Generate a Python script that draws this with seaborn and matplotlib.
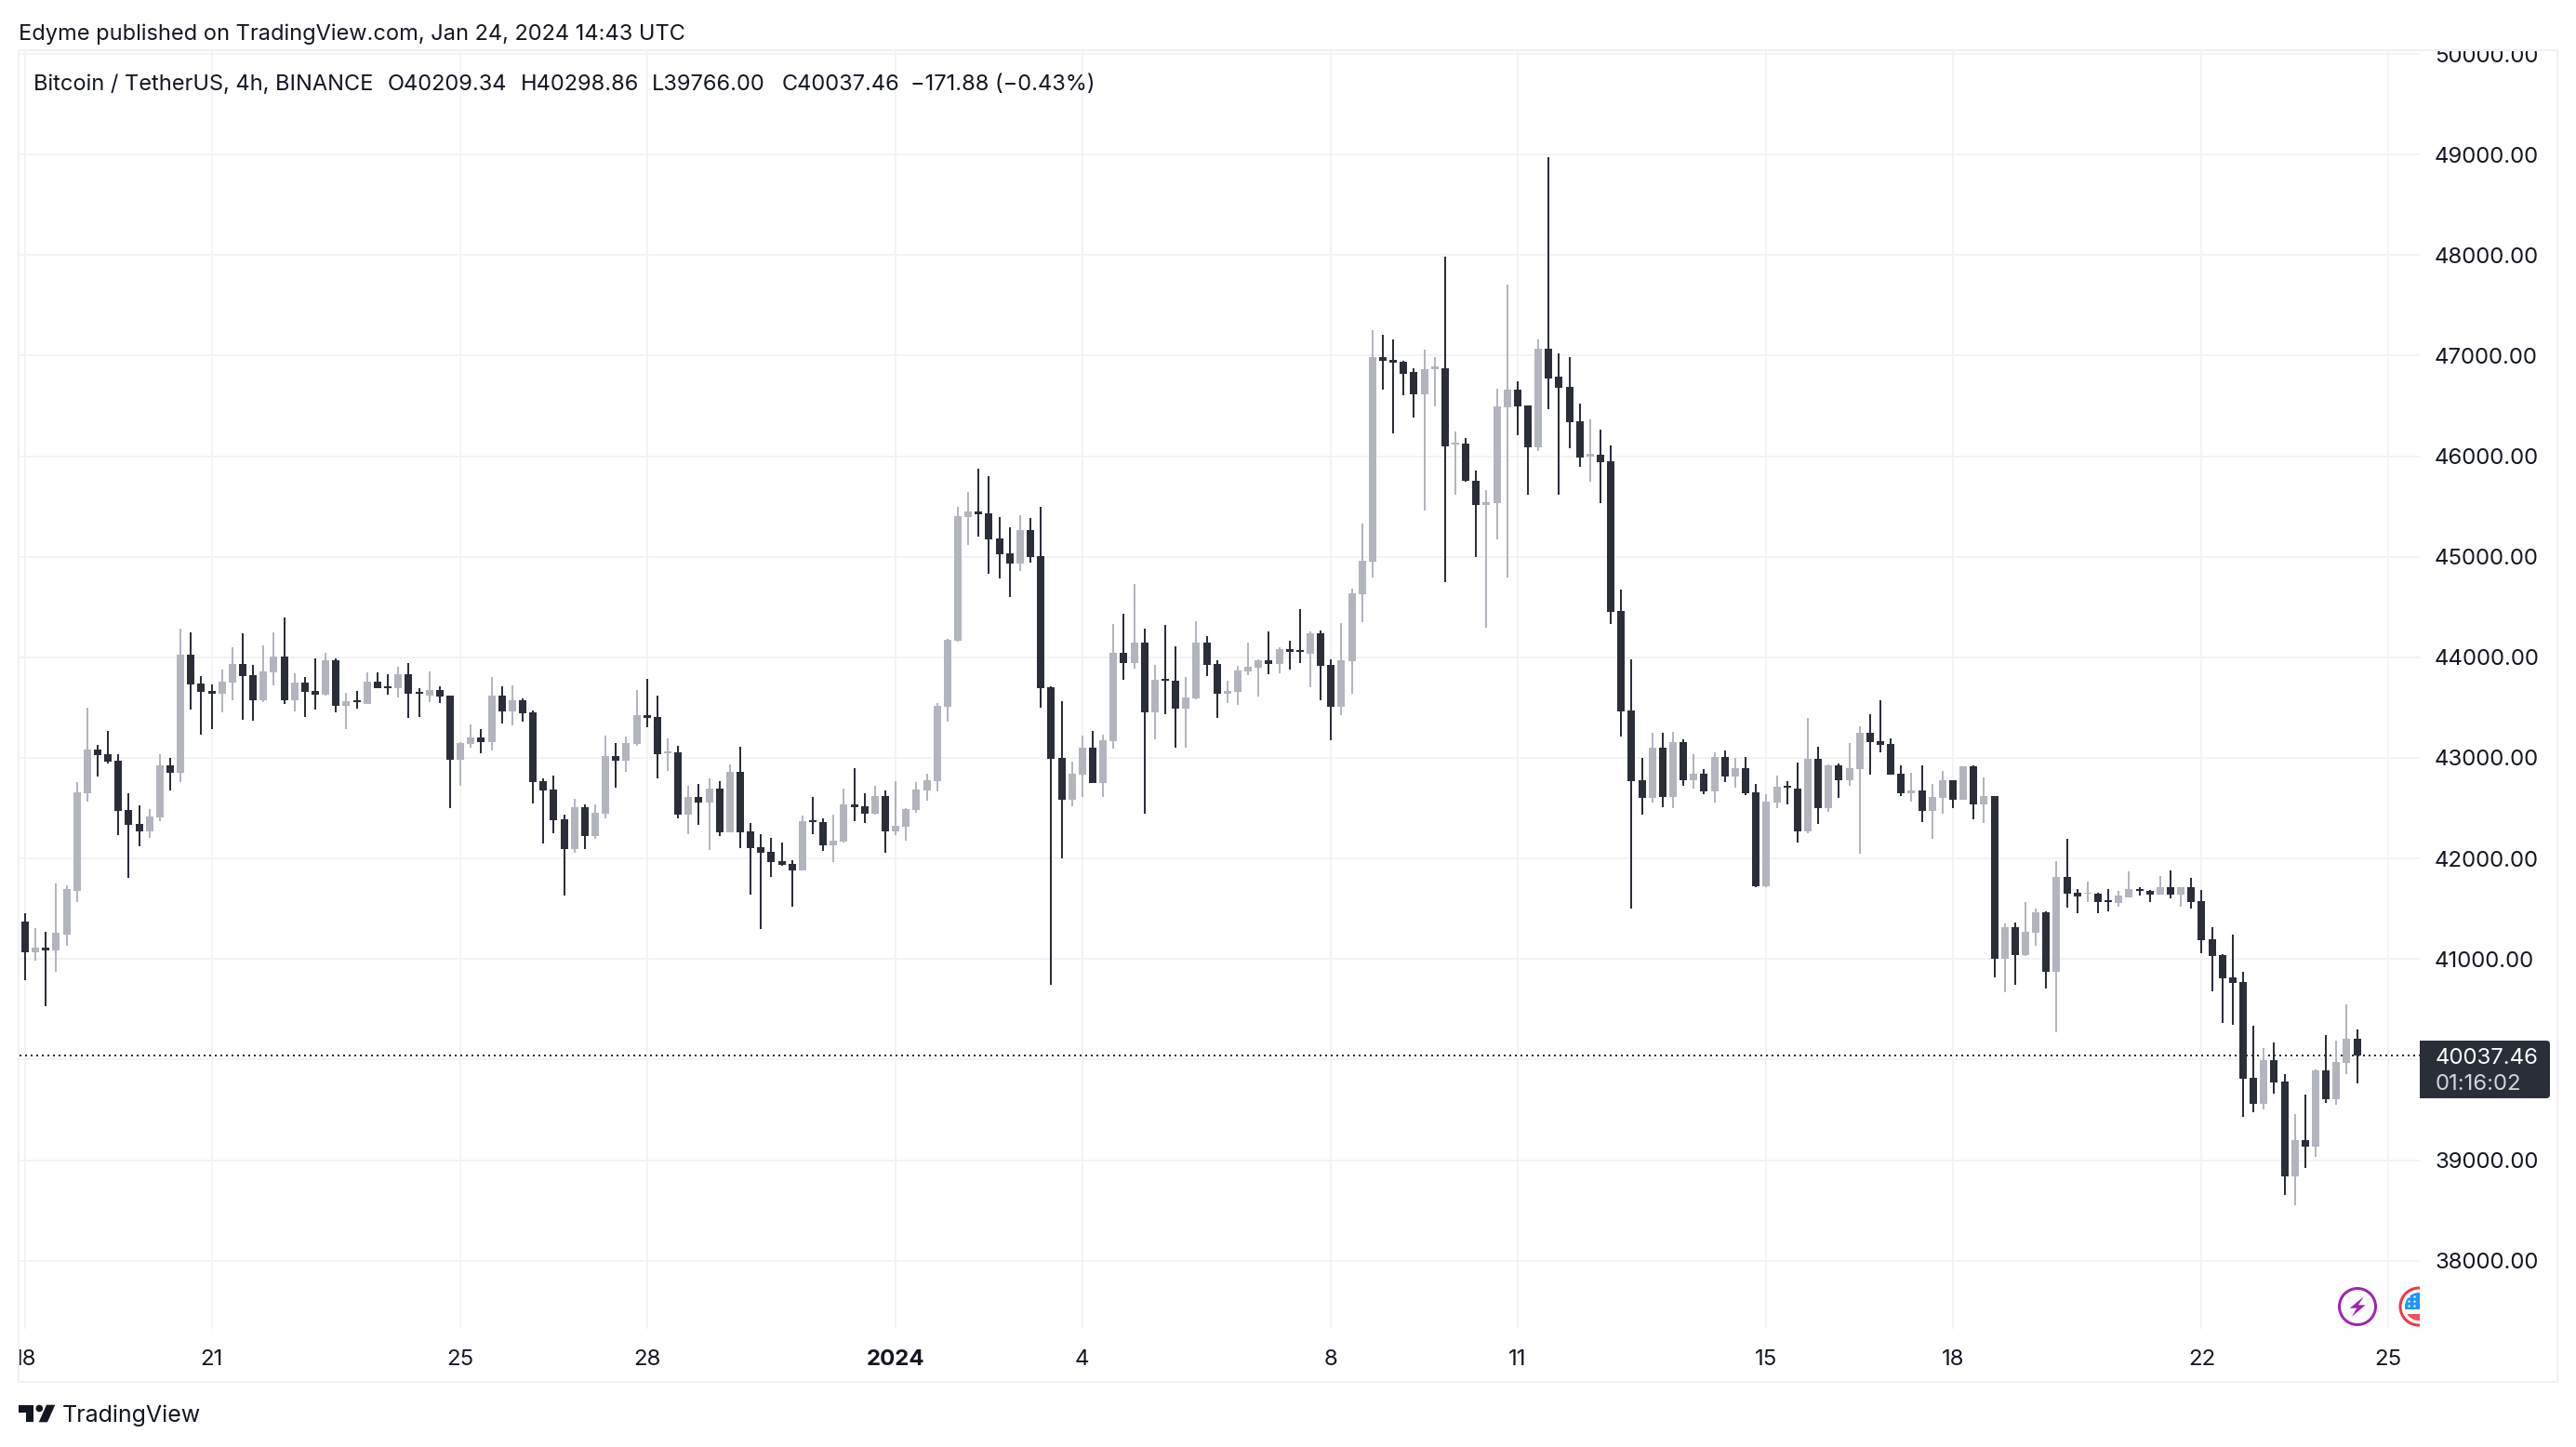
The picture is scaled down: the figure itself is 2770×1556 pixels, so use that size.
import matplotlib
matplotlib.use("Agg")
import matplotlib.pyplot as plt
from matplotlib.patches import Circle, FancyBboxPatch, Polygon, Rectangle
from matplotlib.transforms import Bbox
import numpy as np
import pandas as pd
import seaborn as sns

# 4h candles, first bar is Dec 18 00:00
opens = [41368, 41071, 41118, 41090, 41247, 41682, 42645, 43080, 43034, 42969,
         42479, 42340, 42266, 42405, 42923, 42849, 44025, 43738, 43664, 43636,
         43747, 43932, 43821, 43571, 43849, 44006, 43571, 43747, 43664, 43627,
         43969, 43515, 43571, 43534, 43756, 43710, 43691, 43830, 43654, 43617,
         43673, 43617, 42979, 43136, 43201, 43154, 43617, 43460, 43571, 43451,
         42766, 42682, 42386, 42090, 42506, 42219, 42442, 43016, 42969, 43136,
         43423, 43404, 43043, 43053, 42432, 42608, 42553, 42692, 42256, 42858,
         42266, 42108, 42062, 41969, 41942, 41877, 42377, 42358, 42127, 42164,
         42534, 42516, 42442, 42617, 42266, 42312, 42479, 42673, 42766, 43508,
         44166, 45396, 45452, 45435, 45183, 45034, 44935, 45268, 45009, 43702,
         43001, 42583, 42831, 43100, 42750, 43168, 44046, 43943, 44149, 43455,
         43787, 43766, 43490, 43593, 44149, 43933, 43639, 43656, 43862, 43897,
         43972, 43933, 44081, 44074, 44035, 44241, 43926, 43508, 43961, 44627,
         44955, 46982, 46955, 46936, 46833, 46612, 46869, 46879, 46112, 46122,
         45759, 45511, 45537, 46483, 46658, 46509, 46093, 47065, 46787, 46694,
         46344, 46000, 46010, 45954, 44461, 43473, 42779, 42603, 43102, 42613,
         43159, 42779, 42841, 42666, 43010, 42815, 42898, 42656, 41724, 42557,
         42722, 42696, 42269, 42990, 42501, 42927, 42779, 42888, 43251, 43165,
         43139, 42841, 42653, 42676, 42471, 42603, 42779, 42583, 42917, 42537,
         42620, 41006, 41321, 41043, 41265, 41469, 40877, 41816, 41658, 41646,
         41646, 41582, 41554, 41615, 41692, 41674, 41637, 41711, 41637, 41711,
         41572, 41193, 41036, 40814, 40768, 39816, 39558, 39992, 39779, 38837,
         39197, 39133, 39890, 39604, 39964, 40209.34]
highs = [41460, 41303, 41266, 41747, 41729, 42756, 43497, 43127, 43266, 43034,
         42645, 42525, 42488, 43034, 42997, 44284, 44247, 43812, 43728, 43877,
         44099, 44238, 43923, 44117, 44247, 44395, 43840, 43802, 43988, 44043,
         43988, 43645, 43664, 43849, 43849, 43830, 43904, 43941, 43691, 43858,
         43710, 43617, 43154, 43330, 43284, 43802, 43710, 43719, 43590, 43469,
         42793, 42821, 42432, 42590, 42534, 42534, 43219, 43145, 43210, 43673,
         43784, 43617, 43191, 43117, 42719, 42738, 42793, 42766, 42932, 43108,
         42349, 42238, 42201, 42155, 41979, 42423, 42608, 42395, 42432, 42692,
         42895, 42645, 42719, 42673, 42766, 42497, 42756, 42840, 43543, 44188,
         45498, 45647, 45877, 45803, 45396, 45296, 45417, 45388, 45498, 43713,
         43564, 42962, 43221, 43267, 43231, 44333, 44436, 44730, 44287, 43926,
         44322, 44110, 43805, 44361, 44213, 43972, 43766, 43911, 44149, 43982,
         44259, 44103, 44166, 44482, 44259, 44266, 43979, 44340, 44680, 45332,
         47250, 47210, 47157, 46946, 46879, 47055, 46982, 47980, 46248, 46182,
         45861, 45663, 46668, 47703, 46747, 46509, 47157, 48972, 47025, 46982,
         46519, 46370, 46268, 46109, 44673, 43982, 43000, 43251, 43251, 43258,
         43182, 43036, 42888, 43056, 43073, 43000, 43007, 42742, 42640, 42825,
         42769, 42954, 43397, 43112, 42934, 42944, 43149, 43314, 43436, 43575,
         43192, 42927, 42851, 42927, 42742, 42871, 42779, 42917, 42927, 42805,
         42620, 41358, 41367, 41570, 41506, 41478, 41972, 42193, 41694, 41766,
         41662, 41692, 41680, 41868, 41711, 41683, 41821, 41877, 41717, 41803,
         41683, 41313, 41045, 41239, 40870, 40334, 40112, 40167, 39853, 39456,
         39650, 39900, 40241, 40186, 40546, 40298.86]
lows = [40794, 40988, 40534, 40877, 41136, 41571, 42562, 42812, 42942, 42229,
        41803, 42118, 42201, 42368, 42673, 42756, 43478, 43228, 43284, 43451,
        43571, 43377, 43367, 43553, 43719, 43534, 43460, 43404, 43478, 43617,
        43451, 43284, 43488, 43534, 43691, 43627, 43599, 43395, 43404, 43553,
        43543, 42497, 42719, 43099, 43043, 43071, 43340, 43321, 43358, 42543,
        42145, 42247, 41627, 42053, 42090, 42192, 42395, 42701, 42858, 43117,
        43303, 42793, 42867, 42395, 42238, 42330, 42081, 42219, 42256, 42099,
        41645, 41294, 41812, 41923, 41516, 41877, 42238, 42071, 41960, 42155,
        42368, 42349, 42432, 42053, 42229, 42173, 42451, 42571, 42664, 43359,
        44152, 45119, 45204, 44832, 44786, 44602, 44861, 44942, 43501, 40745,
        42000, 42519, 42612, 42750, 42612, 43093, 43777, 43887, 42445, 43185,
        43433, 43100, 43100, 43586, 43816, 43398, 43547, 43525, 43823, 43610,
        43834, 43841, 43880, 43943, 43702, 43575, 43175, 43426, 43639, 44351,
        44797, 46658, 46231, 46602, 46380, 45455, 46499, 44750, 45620, 45742,
        45000, 44297, 45177, 44797, 46205, 45620, 46056, 46463, 45613, 46083,
        45898, 45742, 45537, 44334, 43212, 41502, 42435, 42557, 42511, 42501,
        42722, 42696, 42640, 42557, 42759, 42702, 42630, 41714, 41714, 42501,
        42537, 42157, 42250, 42342, 42464, 42603, 42722, 42048, 42835, 43056,
        42835, 42620, 42564, 42362, 42193, 42445, 42501, 42583, 42388, 42352,
        40821, 40673, 40747, 41034, 41136, 40710, 40275, 41509, 41453, 41563,
        41452, 41471, 41517, 41609, 41628, 41563, 41637, 41600, 41517, 41498,
        41054, 40676, 40361, 40343, 39428, 39474, 39502, 39659, 38652, 38550,
        38920, 39031, 39567, 39548, 39853, 39766.00]
closes = [41071, 41118, 41090, 41257, 41692, 42655, 43080, 43025, 42960, 42469,
          42330, 42266, 42414, 42923, 42849, 44025, 43728, 43654, 43636, 43756,
          43932, 43812, 43571, 43858, 44006, 43571, 43747, 43654, 43627, 43969,
          43515, 43562, 43553, 43756, 43691, 43691, 43830, 43636, 43636, 43673,
          43608, 42979, 43145, 43201, 43154, 43617, 43460, 43571, 43441, 42756,
          42673, 42377, 42090, 42506, 42219, 42451, 43016, 42969, 43145, 43423,
          43395, 43034, 43062, 42432, 42608, 42553, 42692, 42256, 42858, 42256,
          42099, 42053, 41960, 41932, 41877, 42368, 42358, 42127, 42173, 42534,
          42506, 42442, 42617, 42266, 42321, 42488, 42682, 42775, 43515, 44177,
          45406, 45452, 45427, 45176, 45027, 44935, 45268, 44999, 43695, 42991,
          42583, 42838, 43100, 42750, 43175, 44046, 43943, 44149, 43455, 43777,
          43766, 43490, 43600, 44149, 43926, 43639, 43667, 43869, 43908, 43972,
          43933, 44081, 44053, 44050, 44241, 43915, 43508, 43972, 44638, 44963,
          46982, 46946, 46926, 46823, 46612, 46869, 46889, 46102, 46132, 45752,
          45511, 45547, 46493, 46658, 46499, 46093, 47065, 46777, 46684, 46334,
          45990, 46020, 45944, 44456, 43466, 42769, 42603, 43102, 42613, 43159,
          42779, 42841, 42663, 43010, 42815, 42898, 42646, 41724, 42564, 42712,
          42702, 42269, 42990, 42501, 42927, 42779, 42898, 43251, 43159, 43129,
          42835, 42650, 42673, 42471, 42610, 42779, 42583, 42917, 42537, 42620,
          41006, 41321, 41043, 41274, 41469, 40877, 41816, 41648, 41625, 41655,
          41563, 41569, 41628, 41692, 41680, 41637, 41711, 41637, 41711, 41563,
          41184, 41027, 40805, 40759, 39807, 39558, 39992, 39770, 38837, 39197,
          39133, 39890, 39604, 39973, 40204, 40037.46]

price_ticks = list(range(38000, 51000, 1000))
date_ticks = [0, 18, 42, 60, 84, 102, 126, 144, 168, 186, 210, 228]
date_labels = ["18", "21", "25", "28", "2024", "4", "8", "11", "15", "18", "22", "25"]
last_price = 40037.46

DARK = "#2a2e39"
GREY = "#b2b5be"
GRID = "#f3f3f5"
FRAME = "#f0f0f6"
INK = "#131722"
PX = 0.72  # points per pixel at dpi 100

sns.set_theme(style="white")
plt.rcParams["font.family"] = ["Inter", "DejaVu Sans"]
plt.rcParams["lines.solid_capstyle"] = "butt"

bars = np.arange(len(opens))
side = np.where(np.array(closes) < np.array(opens), "down", "up")
wicks = pd.DataFrame({
    "bar": np.concatenate([bars, bars]),
    "price": highs + lows,
    "side": np.concatenate([side, side]),
})
bodies = pd.DataFrame({
    "bar": np.concatenate([bars, bars]),
    "price": opens + closes,
    "side": np.concatenate([side, side]),
})

fig = plt.figure(figsize=(27.7, 15.56), dpi=100, facecolor="white")
ax = fig.add_axes([21 / 2770, 1 - 1429 / 1556, (2602 - 21) / 2770, (1429 - 54) / 1556])
palette = {"up": GREY, "down": DARK}

ax.axhline(last_price, color=DARK, lw=2 * PX, ls=(0, (1, 2)), zorder=1.5)
sns.lineplot(data=wicks, x="bar", y="price", units="bar", hue="side", palette=palette,
             estimator=None, sort=False, linewidth=2 * PX, legend=False, ax=ax, zorder=3)
sns.lineplot(data=bodies, x="bar", y="price", units="bar", hue="side", palette=palette,
             estimator=None, sort=False, linewidth=8 * PX, legend=False, ax=ax, zorder=3)

ax.set_xlim((21 - 27) / 11.145, (2602 - 27) / 11.145)
ax.set_ylim(37322, 50037)
ax.set_xlabel("")
ax.set_ylabel("")
ax.set_xticks(date_ticks)
ax.set_xticklabels(date_labels, fontsize=24 * PX, color=INK)
ax.set_yticks(price_ticks)
# the last price tag sits where the 40000 label would be
ax.set_yticklabels(["" if p == 40000 else f"{p:.2f}" for p in price_ticks], fontsize=24 * PX, color=INK)
ax.yaxis.tick_right()
ax.tick_params(axis="both", length=0)
ax.tick_params(axis="y", pad=16 * PX)
ax.tick_params(axis="x", pad=22 * PX)
ax.grid(True, color=GRID, lw=2 * PX)
ax.set_axisbelow(True)
sns.despine(ax=ax, left=True, bottom=True, right=True, top=True)
ax.get_xticklabels()[4].set_fontweight("bold")

# labels cut by the frame, same as on the site
frame_box = Bbox.from_extents(20, 0, 2750, 1556 - 54)
for lab in [ax.get_yticklabels()[-1], ax.get_xticklabels()[0]]:
    lab.set_clip_on(True)
    lab.set_clip_box(frame_box)

# pixel overlay for the page furniture
over = fig.add_axes([0, 0, 1, 1])
over.set_xlim(0, 2770)
over.set_ylim(1556, 0)
over.axis("off")
over.patch.set_alpha(0)

over.add_patch(Rectangle((20, 54), 2730, 1432, fill=False, ec=FRAME, lw=2 * PX))

over.text(20, 37, "Edyme published on TradingView.com, Jan 24, 2024 14:43 UTC",
          fontsize=23.6 * PX, color=INK, va="center")
legend_bits = [(36, "Bitcoin / TetherUS, 4h, BINANCE"), (417, "O40209.34"), (560, "H40298.86"),
               (701, "L39766.00"), (841, "C40037.46"), (979, "\u2212171.88 (\u22120.43%)")]
for lx, bit in legend_bits:
    over.text(lx, 91, bit, fontsize=23.6 * PX, color=INK, va="center")

# last price tag
over.add_patch(FancyBboxPatch((2606, 1123), 132, 54, boxstyle="round,pad=4,rounding_size=4",
                              fc=DARK, ec="none"))
over.add_patch(Rectangle((2602, 1119), 8, 62, fc=DARK, ec="none"))
over.text(2619, 1138, f"{last_price:.2f}", fontsize=24 * PX, color="white", va="center")
over.text(2619, 1166, "01:16:02", fontsize=24 * PX, color="#d1d4dc", va="center")

# event icons at the bottom right of the pane
over.add_patch(Circle((2535, 1405), 19.5, fill=False, ec="#9c27b0", lw=3 * PX))
over.add_patch(Polygon([(2541.7, 1394.3), (2526.7, 1406.7), (2534.3, 1406.7), (2528.7, 1416),
                        (2543.7, 1403.3), (2536, 1403.3)], fc="#9c27b0", ec="none"))
over.add_patch(Circle((2601, 1405), 20, fill=False, ec="#f23645", lw=3 * PX))
inner = Circle((2601, 1405), 15, fc="white", ec="none")
over.add_patch(inner)
blue = Rectangle((2580, 1388), 40, 20, fc="#2196f3", ec="none")
red = Rectangle((2580, 1413), 40, 10, fc="#ef5350", ec="none")
for part in [blue, red]:
    over.add_patch(part)
    part.set_clip_path(inner)
over.scatter([2590, 2596, 2590, 2596, 2590, 2596], [1394, 1394, 1399, 1399, 1404, 1404],
             s=8, marker="*", color="white", linewidths=0, zorder=4)
over.add_patch(Rectangle((2602, 1375), 30, 60, fc="white", ec="none", zorder=5))

# TradingView logo
over.add_patch(Polygon([(20, 1510.7), (36, 1510.7), (36, 1529.3), (28, 1529.3), (28, 1519.3),
                        (20, 1519.3)], fc=INK, ec="none"))
over.add_patch(Circle((42.3, 1514.5), 3.8, fc=INK, ec="none"))
over.add_patch(Polygon([(50, 1510.7), (59.3, 1510.7), (51, 1529.3), (41.7, 1529.3)], fc=INK, ec="none"))
over.text(67, 1522, "TradingView", fontsize=25 * PX, color=INK, va="center")

fig.savefig("out.png", dpi=100)
